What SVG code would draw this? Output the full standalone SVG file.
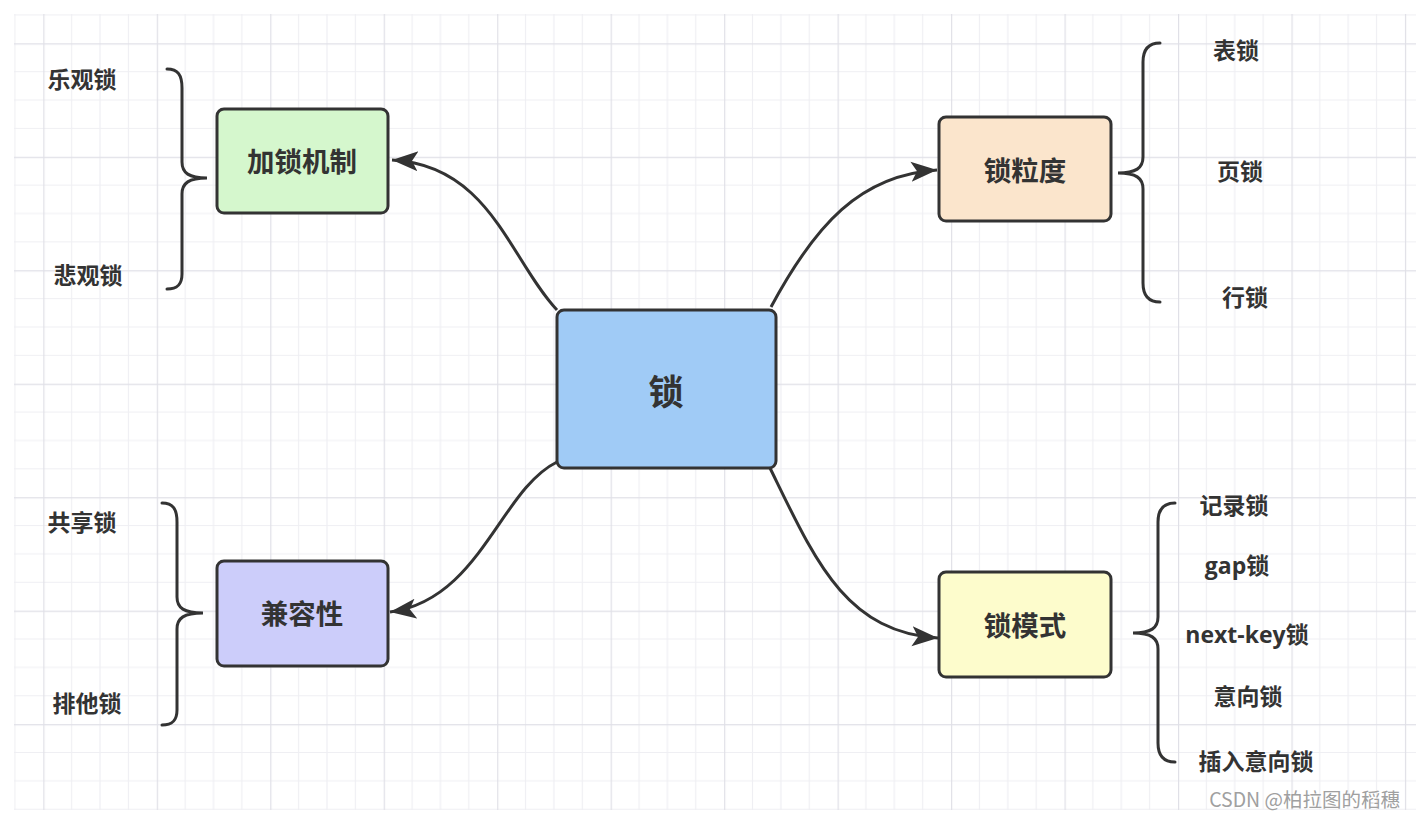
<svg xmlns="http://www.w3.org/2000/svg" width="1416" height="818" viewBox="0 0 1416 818">
  <defs>
    <pattern id="grid" patternUnits="userSpaceOnUse" x="43.3" y="43.3" width="113.47" height="113.47">
      <path d="M28.37,0V113.47M56.73,0V113.47M85.1,0V113.47M0,28.37H113.47M0,56.73H113.47M0,85.1H113.47" stroke="#efeff3" stroke-width="1.2" fill="none"/>
      <path d="M0.5,0V113.47M0,0.5H113.47" stroke="#e0e0e7" stroke-width="1.4" fill="none"/>
    </pattern>
    <marker id="arrow" markerUnits="userSpaceOnUse" markerWidth="30" markerHeight="24" viewBox="0 0 30 24" refX="26" refY="12" orient="auto">
      <path d="M0,2 L26,12 L0,22 L6,12 Z" fill="#333"/>
    </marker>
  </defs>
  <style>
    .node rect { stroke: #333; stroke-width: 3; }
    .node text { font-family: "Noto Sans CJK SC", "Noto Sans", sans-serif; font-weight: bold; fill: #333; text-anchor: middle; dominant-baseline: central; font-size: 27.5px; }
    .leaf { font-family: "Open Sans", "Noto Sans CJK SC", sans-serif; font-weight: bold; fill: #333; text-anchor: middle; dominant-baseline: central; font-size: 23px; }
    .brace { fill: none; stroke: #333; stroke-width: 3; stroke-linecap: round; }
    .edge { fill: none; stroke: #333; stroke-width: 3; marker-end: url(#arrow); }
  </style>
  <rect width="1416" height="818" fill="#ffffff"/>
  <rect x="14" y="14" width="1402" height="796" fill="url(#grid)"/>

  <g id="connectors">
    <path class="edge" d="M557,310 C510,260 490,165 392,160"/>
    <path class="edge" d="M771,307 C815,225 860,175 937,170"/>
    <path class="edge" d="M557,462 C500,490 480,600 390,612"/>
    <path class="edge" d="M770,468 C815,560 845,632 938,638"/>
  </g>

  <g id="braces">
    <path class="brace" d="M167,69 C178,69 182,75 182,88 L182,162 C182,173 189,178 207,178 C189,178 182,183 182,194 L182,274 C182,284 178,289 167,289"/>
    <path class="brace" d="M162,503 C173,503 177,509 177,522 L177,597 C177,608 184,613 203,613 C184,613 177,618 177,629 L177,710 C177,720 173,725 162,725"/>
    <path class="brace" d="M1160,43 C1149,43 1143,49 1143,62 L1143,157 C1143,168 1136,173 1118,173 C1136,173 1143,178 1143,189 L1143,283 C1143,296 1149,302 1160,302"/>
    <path class="brace" d="M1175,503 C1164,503 1158,509 1158,522 L1158,617 C1158,628 1151,633 1133,633 C1151,633 1158,638 1158,649 L1158,743 C1158,756 1164,762 1175,762"/>
  </g>

  <g id="node-lock" class="node">
    <rect x="557" y="310" width="219" height="158" rx="7" fill="#a0cbf6"/>
    <text x="666" y="389" style="font-size:35px">锁</text>
  </g>
  <g id="node-mechanism" class="node">
    <rect x="217" y="109" width="171" height="104" rx="7" fill="#d5f7cd"/>
    <text x="302" y="160">加锁机制</text>
  </g>
  <g id="node-granularity" class="node">
    <rect x="939" y="117" width="172" height="104" rx="7" fill="#fbe5cc"/>
    <text x="1025" y="169">锁粒度</text>
  </g>
  <g id="node-compat" class="node">
    <rect x="217" y="561" width="171" height="105" rx="7" fill="#cccdfa"/>
    <text x="302" y="612">兼容性</text>
  </g>
  <g id="node-mode" class="node">
    <rect x="939" y="572" width="172" height="105" rx="7" fill="#fdfccc"/>
    <text x="1025" y="624">锁模式</text>
  </g>

  <g id="leaves-mechanism">
    <text class="leaf" x="82" y="79">乐观锁</text>
    <text class="leaf" x="88" y="275">悲观锁</text>
  </g>
  <g id="leaves-granularity">
    <text class="leaf" x="1236" y="50">表锁</text>
    <text class="leaf" x="1240" y="171">页锁</text>
    <text class="leaf" x="1245" y="297">行锁</text>
  </g>
  <g id="leaves-compat">
    <text class="leaf" x="82" y="522">共享锁</text>
    <text class="leaf" x="87" y="703">排他锁</text>
  </g>
  <g id="leaves-mode">
    <text class="leaf" x="1234" y="505">记录锁</text>
    <text class="leaf" x="1237" y="565">gap锁</text>
    <text class="leaf" x="1247" y="634">next-key锁</text>
    <text class="leaf" x="1248" y="696">意向锁</text>
    <text class="leaf" x="1256" y="761">插入意向锁</text>
  </g>

  <text x="1400" y="798" text-anchor="end" dominant-baseline="central" style="font-family:'Noto Sans CJK SC','Noto Sans',sans-serif;font-size:19.5px;fill:#a0a0a0">CSDN @柏拉图的稻穗</text>
</svg>
